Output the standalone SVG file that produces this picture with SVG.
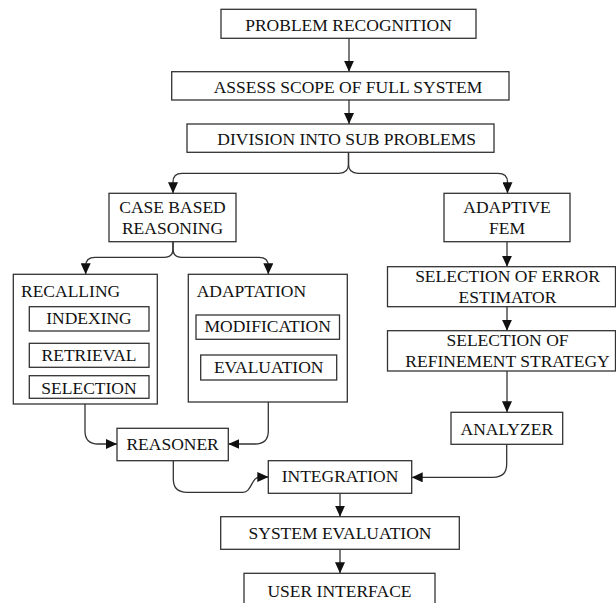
<svg xmlns="http://www.w3.org/2000/svg" width="616" height="603" viewBox="0 0 616 603">
  <defs>
    <marker id="arrow" markerUnits="userSpaceOnUse" markerWidth="11" markerHeight="10" viewBox="0 0 11 10" refX="11" refY="5" orient="auto">
      <path d="M0,0 L11,5 L0,10 z" fill="#111"/>
    </marker>
    <style>
      .box { fill: #fff; stroke: #333; stroke-width: 1.3; }
      .t { font-family: "Liberation Serif", "Times New Roman", serif; font-size: 17.5px; fill: #111; text-anchor: middle; }
      .tl { text-anchor: start; }
      .c { fill: none; stroke: #333; stroke-width: 1.3; marker-end: url(#arrow); }
    </style>
  </defs>
  <rect width="616" height="603" fill="#fff"/>

  <g id="connectors">
    <path class="c" d="M349,38.3 V71.7"/>
    <path class="c" d="M349,100 V124"/>
    <!-- split under the sub-problem box -->
    <path class="c" d="M348.5,152.5 V164 Q348.5,173.3 339,173.3 H182 Q173,173.3 173,182 V193.3"/>
    <path class="c" d="M348.5,152.5 V164 Q348.5,173.3 358,173.3 H498 Q507.5,173.3 507.5,182 V193.3"/>
    <!-- split under case based reasoning -->
    <path class="c" d="M173,241.7 V249 Q173,257.3 164,257.3 H95 Q85.7,257.3 85.7,266 V274.3"/>
    <path class="c" d="M173,241.7 V249 Q173,257.3 182,257.3 H259 Q268.3,257.3 268.3,266 V274.3"/>
    <!-- adaptive FEM chain -->
    <path class="c" d="M507,241.7 V266.7"/>
    <path class="c" d="M507,306.7 V330.7"/>
    <path class="c" d="M507,371 V412.3"/>
    <path class="c" d="M506.7,444.3 V464 Q506.7,477.3 493,477.3 H411.7"/>
    <!-- into the reasoner -->
    <path class="c" d="M85,404 V431 Q85,444 98,444 H117"/>
    <path class="c" d="M268.3,402 V431 Q268.3,444 255,444 H228.3"/>
    <!-- reasoner to integration -->
    <path class="c" d="M173.3,460.7 V479 Q173.3,492.3 187,492.3 H243 C252,492.3 251,477 260,477 H268.3"/>
    <path class="c" d="M340,493.3 V516.7"/>
    <path class="c" d="M340,549.3 V573.3"/>
  </g>

  <g id="problem-recognition">
    <rect class="box" x="221" y="9.3" width="255" height="29"/>
    <text class="t" x="348.5" y="30.5">PROBLEM RECOGNITION</text>
  </g>
  <g id="assess-scope">
    <rect class="box" x="171.7" y="71.7" width="337.3" height="28.3"/>
    <text class="t" x="348" y="92.5">ASSESS SCOPE OF FULL SYSTEM</text>
  </g>
  <g id="division">
    <rect class="box" x="187" y="124" width="307" height="28.3"/>
    <text class="t" x="346.7" y="145">DIVISION INTO SUB PROBLEMS</text>
  </g>
  <g id="case-based-reasoning">
    <rect class="box" x="109" y="193.3" width="127" height="48.4"/>
    <text class="t" x="172.5" y="213.3">CASE BASED</text>
    <text class="t" x="172.5" y="234">REASONING</text>
  </g>
  <g id="adaptive-fem">
    <rect class="box" x="444" y="193.3" width="126" height="48.4"/>
    <text class="t" x="507" y="213.3">ADAPTIVE</text>
    <text class="t" x="507" y="234">FEM</text>
  </g>
  <g id="recalling">
    <rect class="box" x="13.3" y="274.3" width="144" height="129.7"/>
    <text class="t tl" x="21" y="297.3">RECALLING</text>
  </g>
  <g id="indexing">
    <rect class="box" x="29.3" y="306.7" width="119.7" height="24.3"/>
    <text class="t" x="89" y="323.8">INDEXING</text>
  </g>
  <g id="retrieval">
    <rect class="box" x="29.3" y="343.3" width="119.7" height="24"/>
    <text class="t" x="89" y="360.7">RETRIEVAL</text>
  </g>
  <g id="selection">
    <rect class="box" x="29.3" y="375.7" width="119.7" height="22.6"/>
    <text class="t" x="89" y="393.5">SELECTION</text>
  </g>
  <g id="adaptation">
    <rect class="box" x="188.3" y="274.3" width="159" height="127.7"/>
    <text class="t tl" x="196.7" y="297.3">ADAPTATION</text>
  </g>
  <g id="modification">
    <rect class="box" x="196" y="315" width="143.5" height="24.3"/>
    <text class="t" x="267.7" y="332.3">MODIFICATION</text>
  </g>
  <g id="evaluation">
    <rect class="box" x="200.7" y="355" width="136" height="25"/>
    <text class="t" x="268.7" y="372.7">EVALUATION</text>
  </g>
  <g id="error-estimator">
    <rect class="box" x="387.5" y="266.7" width="228" height="40"/>
    <text class="t" x="507.5" y="281.7">SELECTION OF ERROR</text>
    <text class="t" x="507.5" y="302.8">ESTIMATOR</text>
  </g>
  <g id="refinement-strategy">
    <rect class="box" x="387.5" y="330.7" width="228" height="40.3"/>
    <text class="t" x="507.5" y="346">SELECTION OF</text>
    <text class="t" x="507.5" y="367">REFINEMENT STRATEGY</text>
  </g>
  <g id="analyzer">
    <rect class="box" x="451" y="412.3" width="111.7" height="32"/>
    <text class="t" x="506.8" y="434.8">ANALYZER</text>
  </g>
  <g id="reasoner">
    <rect class="box" x="117" y="428.3" width="111.3" height="32.4"/>
    <text class="t" x="172.6" y="450">REASONER</text>
  </g>
  <g id="integration">
    <rect class="box" x="268.3" y="460.7" width="143.4" height="32.6"/>
    <text class="t" x="340" y="482">INTEGRATION</text>
  </g>
  <g id="system-evaluation">
    <rect class="box" x="220.7" y="516.7" width="238.6" height="32.6"/>
    <text class="t" x="340" y="539.3">SYSTEM EVALUATION</text>
  </g>
  <g id="user-interface">
    <rect class="box" x="244" y="573.3" width="191" height="40"/>
    <text class="t" x="339.5" y="596.7">USER INTERFACE</text>
  </g>
</svg>
